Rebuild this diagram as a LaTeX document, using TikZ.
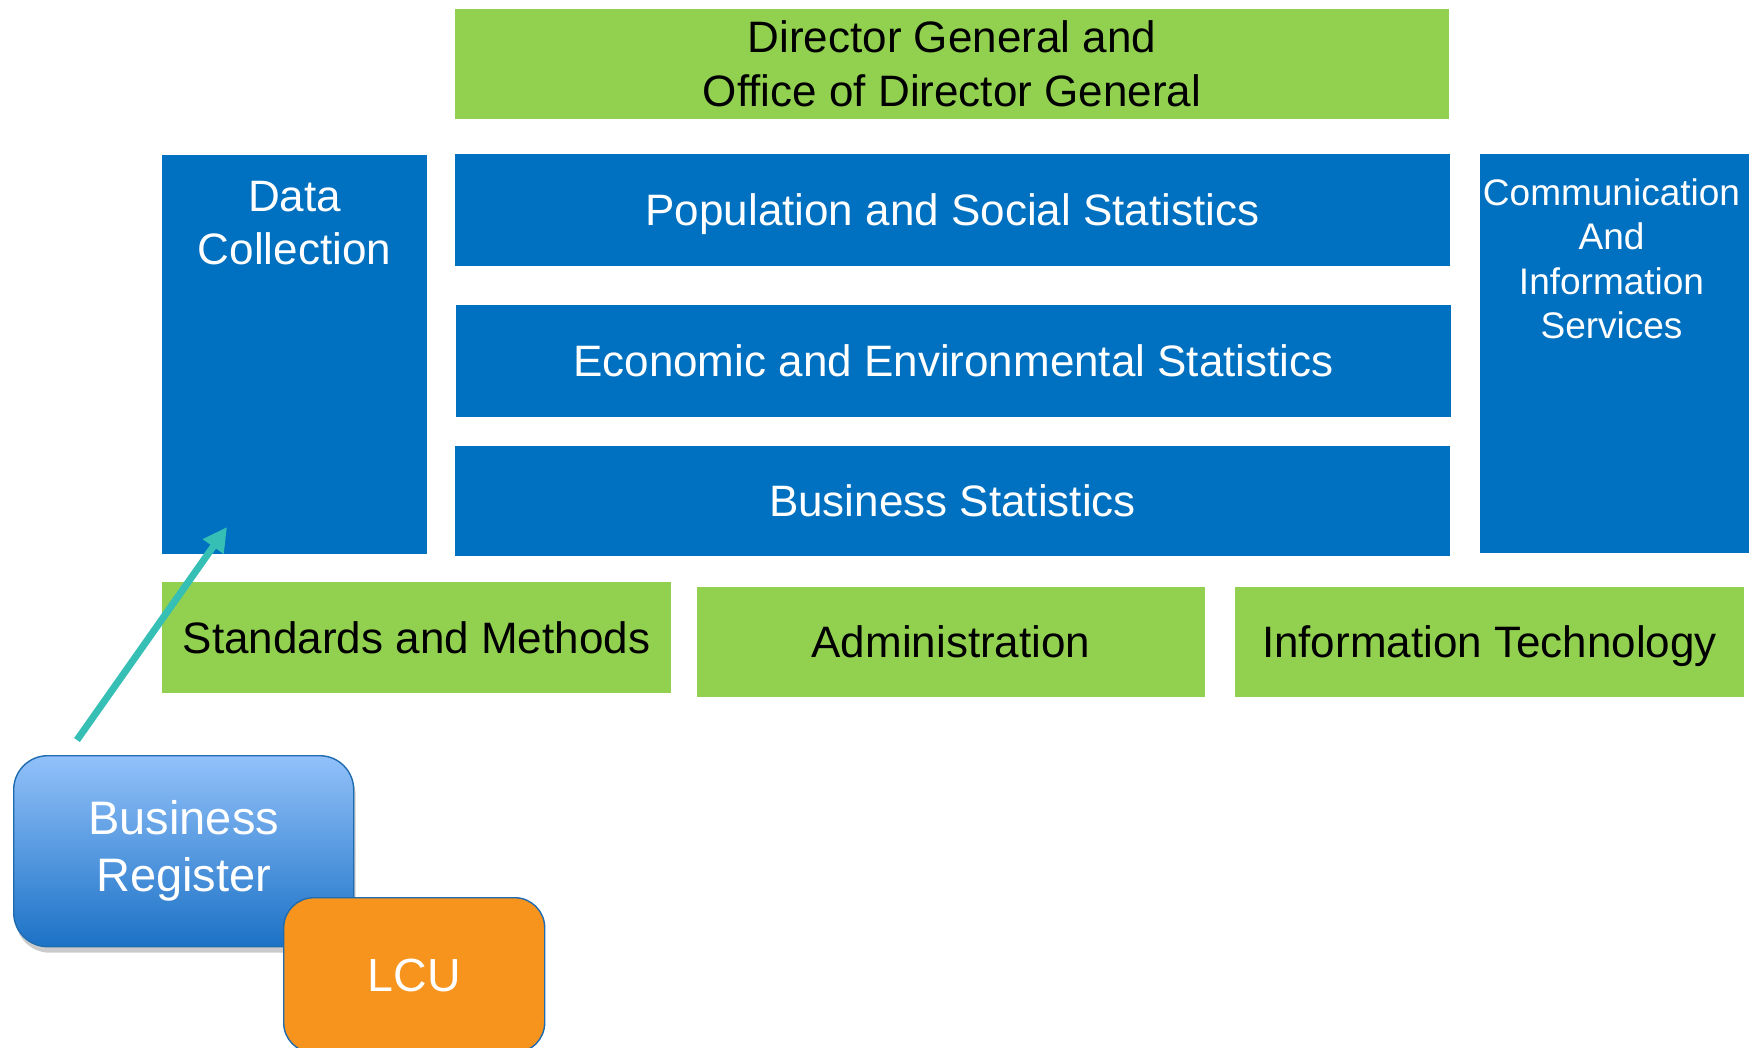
\documentclass[tikz,border=0pt]{standalone}
\usepackage{fontspec}
\setmainfont{Liberation Sans}
\usetikzlibrary{positioning,arrows.meta,shadows}
\definecolor{unitblue}{HTML}{0070C0}
\definecolor{unitgreen}{HTML}{92D050}
\definecolor{lcuorange}{HTML}{F7941E}
\definecolor{arrowteal}{HTML}{35BFB5}
\definecolor{brtop}{HTML}{92C1FA}
\definecolor{brbottom}{HTML}{1C72C6}
\definecolor{brline}{HTML}{1F6BB0}

\begin{document}
\begin{tikzpicture}[x=1pt, y=-1pt,
		unit/.style={anchor=north west, inner sep=0pt, outer sep=0pt, align=center, font=\fontsize{44}{53.8}\selectfont},
		blueunit/.style={unit, fill=unitblue, text=white},
		greenunit/.style={unit, fill=unitgreen, text=black},
		oneline/.style={text height=40pt, text depth=8.5pt},
		toptext/.style={inner sep=0pt, align=center, text=white},
		roundbox/.style={anchor=north west, inner sep=0pt, align=center, text=white, line width=1.4pt, draw=brline},
		link/.style={line width=7pt, color=arrowteal, -{Triangle[length=24pt, width=24pt]}}]
	%%%%% START %%%%%
	
	\useasboundingbox (0, 0) rectangle (1756, 1048);
	
	\node[greenunit, minimum width=994, minimum height=110] (dg) at (455, 9) {Director General and\\Office of Director General};
	
	\node[blueunit, minimum width=265, minimum height=399] (dc) at (162, 155) {};
	\node[toptext, font=\fontsize{44}{52.6}\selectfont, below=26pt of dc.north] (dctext) {Data\\Collection};
	
	\node[blueunit, oneline, minimum width=995, minimum height=112] (pop) at (455, 154) {Population and Social Statistics};
	\node[blueunit, oneline, minimum width=995, minimum height=112] (econ) at (456, 305) {Economic and Environmental Statistics};
	\node[blueunit, oneline, minimum width=995, minimum height=110] (bus) at (455, 446) {Business Statistics};
	
	\node[blueunit, minimum width=269, minimum height=399] (comm) at (1480, 154) {};
	\node[toptext, font=\fontsize{37}{44.6}\selectfont, below=24pt of comm.north, xshift=-3pt] (commtext) {Communication\\And\\Information\\Services};
	
	\node[greenunit, oneline, minimum width=509, minimum height=111] (std) at (162, 582) {Standards and Methods};
	\node[greenunit, oneline, minimum width=508, minimum height=110] (adm) at (697, 587) {Administration};
	\node[greenunit, oneline, minimum width=509, minimum height=110] (it) at (1235, 587) {Information Technology};
	
	\node[roundbox, rounded corners=34pt, minimum width=340, minimum height=191, top color=brtop, bottom color=brbottom,
		drop shadow={shadow xshift=2pt, shadow yshift=-6pt, fill=black!45, opacity=.45},
		font=\fontsize{47}{57}\selectfont] (br) at (13, 755) {Business\\Register};
	\node[roundbox, rounded corners=30pt, minimum width=261, minimum height=155, fill=lcuorange,
		font=\fontsize{46.5}{56}\selectfont] (lcu) at (283, 897) {LCU};
	
	\coordinate (brtail) at (77, 740);
	\coordinate (dctip) at (227, 527);
	\draw[link] (brtail) -- (dctip);
	
	%%%%% END %%%%%
\end{tikzpicture}
\end{document}
